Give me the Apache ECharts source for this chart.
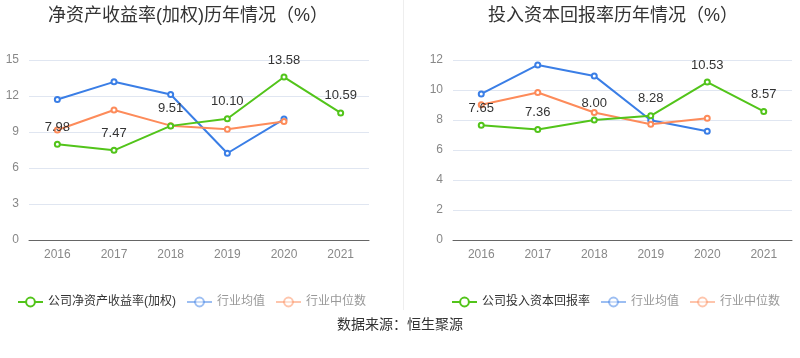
<!DOCTYPE html>
<html><head><meta charset="utf-8">
<script src="https://cdn.jsdelivr.net/npm/echarts@6/dist/echarts.min.js"></script>
<style>html,body{margin:0;padding:0;background:#fff}#c{width:800px;height:358px}</style>
</head><body><div id="c"></div>
<script>
const years = ['2016','2017','2018','2019','2020','2021'];
const roeCompany = [7.98, 7.47, 9.51, 10.10, 13.58, 10.59];
const roeIndustryAvg = [11.71, 13.18, 12.13, 7.23, 10.08];
const roeIndustryMedian = [9.17, 10.83, 9.53, 9.22, 9.88];
const roicCompany = [7.65, 7.36, 8.00, 8.28, 10.53, 8.57];
const roicIndustryAvg = [9.74, 11.67, 10.94, 7.98, 7.25];
const roicIndustryMedian = [9.01, 9.83, 8.50, 7.72, 8.12];
const leftTitle = '净资产收益率(加权)历年情况（%）';
const rightTitle = '投入资本回报率历年情况（%）';
const sourceText = '数据来源：恒生聚源';

const FONT = '"Liberation Sans", "Noto Sans CJK SC", sans-serif';
const GREEN = '#52c41a', BLUE = '#3a7ee6', ORANGE = '#fd8b5a';

function xAxis(gi){
  return {type:'category', gridIndex:gi, data:years, boundaryGap:true,
    axisLine:{lineStyle:{color:'#666'}}, axisTick:{show:false},
    axisLabel:{color:'#888', fontSize:12, fontFamily:FONT, margin:9}};
}
function yAxis(gi, max, interval){
  return {type:'value', gridIndex:gi, min:0, max:max, interval:interval,
    axisLine:{show:false}, axisTick:{show:false},
    axisLabel:{color:'#888', fontSize:12, fontFamily:FONT, margin:10},
    splitLine:{lineStyle:{color:'#e0e6f1'}}};
}
function line(name, data, color, gi, label){
  return {name:name, type:'line', xAxisIndex:gi, yAxisIndex:gi, data:data,
    symbol:'emptyCircle', symbolSize:5, showSymbol:true,
    lineStyle:{color:color, width:2}, itemStyle:{color:color, borderWidth:2},
    label: label ? {show:true, position:'top', color:'#333', fontSize:13, fontFamily:FONT, distance:7,
      formatter: p => p.value.toFixed(2)} : {show:false},
    z: label ? 3 : 2};
}
function legend(left, first){
  const faded = () => ({itemStyle:{opacity:0.5}, lineStyle:{opacity:0.5}, textStyle:{color:'#999'}});
  return {left:left, top:291, itemWidth:25, itemHeight:11, itemGap:10,
    textStyle:{fontSize:12, fontFamily:FONT, color:'#333'},
    data:[{name:first}, Object.assign({name:'行业均值'}, faded()), Object.assign({name:'行业中位数'}, faded())]};
}

const chart = echarts.init(document.getElementById('c'), null, {renderer:'canvas'});
chart.setOption({
  animation:false,
  title:[
    {text:leftTitle, left:43, top:2, textStyle:{fontSize:18, fontWeight:'normal', color:'#333', fontFamily:FONT}},
    {text:rightTitle, left:483, top:2, textStyle:{fontSize:18, fontWeight:'normal', color:'#333', fontFamily:FONT}}
  ],
  legend:[legend(12, '公司净资产收益率(加权)'), legend(446, '公司投入资本回报率')],
  grid:[
    {left:29, top:60, width:340, height:180, containLabel:false},
    {left:453, top:60, width:339, height:180, containLabel:false}
  ],
  xAxis:[xAxis(0), xAxis(1)],
  yAxis:[yAxis(0, 15, 3), yAxis(1, 12, 2)],
  series:[
    line('行业均值', roeIndustryAvg, BLUE, 0, false),
    line('行业中位数', roeIndustryMedian, ORANGE, 0, false),
    line('公司净资产收益率(加权)', roeCompany, GREEN, 0, true),
    line('行业均值', roicIndustryAvg, BLUE, 1, false),
    line('行业中位数', roicIndustryMedian, ORANGE, 1, false),
    line('公司投入资本回报率', roicCompany, GREEN, 1, true)
  ],
  graphic:[
    {type:'line', shape:{x1:403.5, y1:0, x2:403.5, y2:310}, style:{stroke:'#eeeeee', lineWidth:1}},
    {type:'text', left:'center', top:317, style:{text:sourceText, fill:'#333', font:'14px "Noto Sans CJK SC", sans-serif'}}
  ]
});
</script></body></html>
